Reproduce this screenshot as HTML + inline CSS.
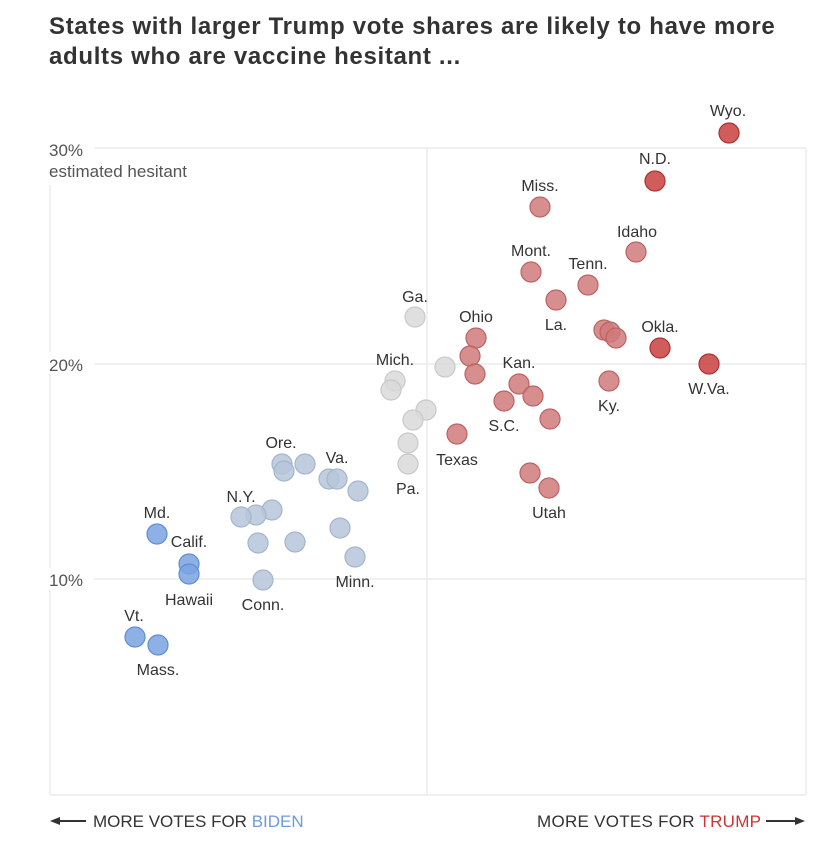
<!DOCTYPE html>
<html><head><meta charset="utf-8"><style>
body{margin:0;background:#fff;width:831px;height:853px;overflow:hidden;font-family:"Liberation Sans",sans-serif}
h1{position:absolute;left:49px;top:12px;margin:0;font-size:24px;line-height:30px;font-weight:bold;color:#333;letter-spacing:0.68px}
</style></head><body>
<h1>States with larger Trump vote shares are likely to have more<br>adults who are vaccine hesitant ...</h1>
<svg width="831" height="853" style="position:absolute;left:0;top:0" font-family="Liberation Sans, sans-serif">
<g stroke="#ebebeb" stroke-width="1.5" fill="none">
<line x1="50" y1="148" x2="806" y2="148"/>
<line x1="50" y1="364" x2="806" y2="364"/>
<line x1="50" y1="579" x2="806" y2="579"/>
<line x1="50" y1="795" x2="806" y2="795"/>
<line x1="50" y1="185" x2="50" y2="795"/>
<line x1="806" y1="148" x2="806" y2="795"/>
<line x1="427" y1="148" x2="427" y2="795"/>
</g>
<g font-size="17" fill="#555">
<rect x="48" y="136" width="46" height="20" fill="#fff"/>
<text x="49" y="156">30%</text>
<text x="49" y="177">estimated hesitant</text>
<rect x="48" y="352" width="46" height="22" fill="#fff"/>
<text x="49" y="371">20%</text>
<rect x="48" y="568" width="46" height="22" fill="#fff"/>
<text x="49" y="586">10%</text>
</g>
<g stroke-width="1.2" fill-opacity="0.85">
<g fill="#d9d9d9" stroke="#c9c9c9">
<circle cx="415" cy="317" r="10"/><circle cx="395" cy="381" r="10"/><circle cx="391" cy="390" r="10"/><circle cx="445" cy="367" r="10"/><circle cx="426" cy="410" r="10"/><circle cx="413" cy="420" r="10"/><circle cx="408" cy="443" r="10"/><circle cx="408" cy="464" r="10"/>
</g>
<g fill="#b6c5da" stroke="#a4b5cc">
<circle cx="282" cy="464" r="10"/><circle cx="284" cy="471" r="10"/><circle cx="305" cy="464" r="10"/><circle cx="329" cy="479" r="10"/><circle cx="337" cy="479" r="10"/><circle cx="358" cy="491" r="10"/><circle cx="272" cy="510" r="10"/><circle cx="256" cy="515" r="10"/><circle cx="241" cy="517" r="10"/><circle cx="258" cy="543" r="10"/><circle cx="295" cy="542" r="10"/><circle cx="340" cy="528" r="10"/><circle cx="355" cy="557" r="10"/><circle cx="263" cy="580" r="10"/>
</g>
<g fill="#7aa3e0" stroke="#5f8dd4">
<circle cx="157" cy="534" r="10"/><circle cx="189" cy="564" r="10"/><circle cx="189" cy="574" r="10"/><circle cx="135" cy="637" r="10"/><circle cx="158" cy="645" r="10"/>
</g>
<g fill="#d07a7a" stroke="#be6262">
<circle cx="540" cy="207" r="10"/><circle cx="636" cy="252" r="10"/><circle cx="531" cy="272" r="10"/><circle cx="588" cy="285" r="10"/><circle cx="556" cy="300" r="10"/><circle cx="476" cy="338" r="10"/><circle cx="470" cy="356" r="10"/><circle cx="475" cy="374" r="10"/><circle cx="604" cy="330" r="10"/><circle cx="610" cy="332" r="10"/><circle cx="616" cy="338" r="10"/><circle cx="519" cy="384" r="10"/><circle cx="533" cy="396" r="10"/><circle cx="504" cy="401" r="10"/><circle cx="609" cy="381" r="10"/><circle cx="550" cy="419" r="10"/><circle cx="457" cy="434" r="10"/><circle cx="530" cy="473" r="10"/><circle cx="549" cy="488" r="10"/>
</g>
<g fill="#c84040" stroke="#b03030">
<circle cx="729" cy="133" r="10"/><circle cx="655" cy="181" r="10"/><circle cx="660" cy="348" r="10"/><circle cx="709" cy="364" r="10"/>
</g>
</g>
<g font-size="16" fill="#333" text-anchor="middle">
<text x="728" y="116">Wyo.</text><text x="655" y="164">N.D.</text><text x="540" y="191">Miss.</text><text x="637" y="237">Idaho</text><text x="531" y="256">Mont.</text><text x="588" y="269">Tenn.</text><text x="556" y="330">La.</text><text x="476" y="322">Ohio</text><text x="660" y="332">Okla.</text><text x="709" y="394">W.Va.</text><text x="519" y="368">Kan.</text><text x="609" y="411">Ky.</text><text x="504" y="431">S.C.</text><text x="457" y="465">Texas</text><text x="549" y="518">Utah</text><text x="415" y="302">Ga.</text><text x="395" y="365">Mich.</text><text x="408" y="494">Pa.</text><text x="281" y="448">Ore.</text><text x="337" y="463">Va.</text><text x="241" y="502">N.Y.</text><text x="355" y="587">Minn.</text><text x="263" y="610">Conn.</text><text x="157" y="518">Md.</text><text x="189" y="547">Calif.</text><text x="189" y="605">Hawaii</text><text x="134" y="621">Vt.</text><text x="158" y="675">Mass.</text>
</g>
<g font-size="17" fill="#333">
<path d="M50 821 L60 817 L60 825 Z" fill="#333"/><line x1="58" y1="821" x2="86" y2="821" stroke="#333" stroke-width="2"/>
<text x="93" y="827">MORE VOTES FOR <tspan fill="#6f9bd8">BIDEN</tspan></text>
<text x="537" y="827" textLength="224">MORE VOTES FOR <tspan fill="#c33">TRUMP</tspan></text>
<line x1="766" y1="821" x2="796" y2="821" stroke="#333" stroke-width="2"/><path d="M805 821 L795 817 L795 825 Z" fill="#333"/>
</g>
</svg>
</body></html>
